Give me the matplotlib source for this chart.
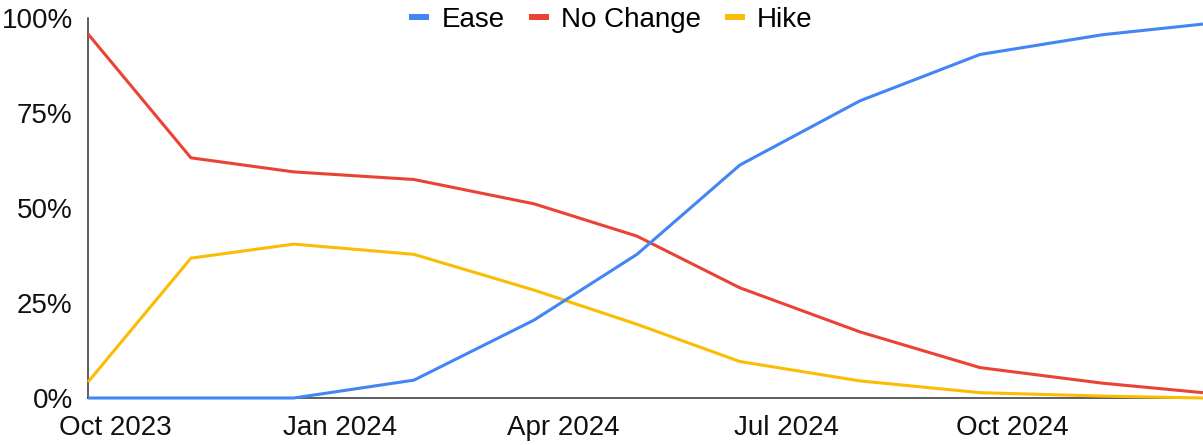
import matplotlib
matplotlib.use('Agg')
import matplotlib.pyplot as plt
import matplotlib.dates as mdates
import pandas as pd

# meeting dates and implied probabilities (%)
meeting_dates = ['2023-09-20', '2023-11-01', '2023-12-13', '2024-01-31', '2024-03-20',
                 '2024-05-01', '2024-06-12', '2024-07-31', '2024-09-18', '2024-11-07',
                 '2024-12-18']
ease = [0.0, 0.0, 0.0, 4.7, 20.5, 37.8, 61.3, 78.2, 90.4, 95.6, 98.4]
no_change = [95.8, 63.2, 59.5, 57.5, 51.1, 42.6, 29.0, 17.4, 8.0, 3.9, 1.4]
hike = [4.2, 36.8, 40.5, 37.8, 28.4, 19.4, 9.6, 4.5, 1.4, 0.5, 0.0]
tick_dates = ['2023-10-01', '2024-01-01', '2024-04-01', '2024-07-01', '2024-10-01']

series_names = ['Ease', 'No Change', 'Hike']
colors = ['#4285F4', '#EA4335', '#FBBC04']

plt.rcParams['font.family'] = ['Liberation Sans', 'DejaVu Sans']

dates = pd.to_datetime(meeting_dates)
W, H = 1203, 445
fig = plt.figure(figsize=(W / 100, H / 100), dpi=100)
ax = fig.add_axes([88 / W, (H - 398) / H, (1203 - 88) / W, (398 - 18) / H])

# draw back to front so blue sits on top
for name, vals, col in reversed(list(zip(series_names, [ease, no_change, hike], colors))):
    ax.plot(dates, [v / 100 for v in vals], color=col, lw=2.2, label=name,
            clip_on=False, zorder=3, solid_capstyle='butt', solid_joinstyle='round')

ax.set_xlim(dates[0], dates[-1])
ax.set_ylim(0, 1)
ax.set_yticks([0, 0.25, 0.5, 0.75, 1.0])
ax.set_yticklabels(['0%', '25%', '50%', '75%', '100%'])
ax.set_xticks(pd.to_datetime(tick_dates))
ax.xaxis.set_major_formatter(mdates.DateFormatter('%b %Y'))
ax.tick_params(axis='both', length=0, labelsize=20, colors='#111111')
ax.tick_params(axis='y', pad=11)
ax.tick_params(axis='x', pad=12)

for s in ['top', 'right']:
    ax.spines[s].set_visible(False)
for s in ['left', 'bottom']:
    ax.spines[s].set_color('#333333')
    ax.spines[s].set_linewidth(1.1)

handles, labels = ax.get_legend_handles_labels()
order = [labels.index(n) for n in series_names]
leg = fig.legend([handles[i] for i in order], [labels[i] for i in order],
                 loc='center', bbox_to_anchor=(611 / W, 1 - 20 / H), ncol=3,
                 frameon=False, fontsize=20, handlelength=0.72, handletextpad=0.45,
                 columnspacing=0.85, borderaxespad=0)
for lh in leg.get_lines():
    lh.set_linewidth(4.3)

fig.savefig('out.png', dpi=100)
